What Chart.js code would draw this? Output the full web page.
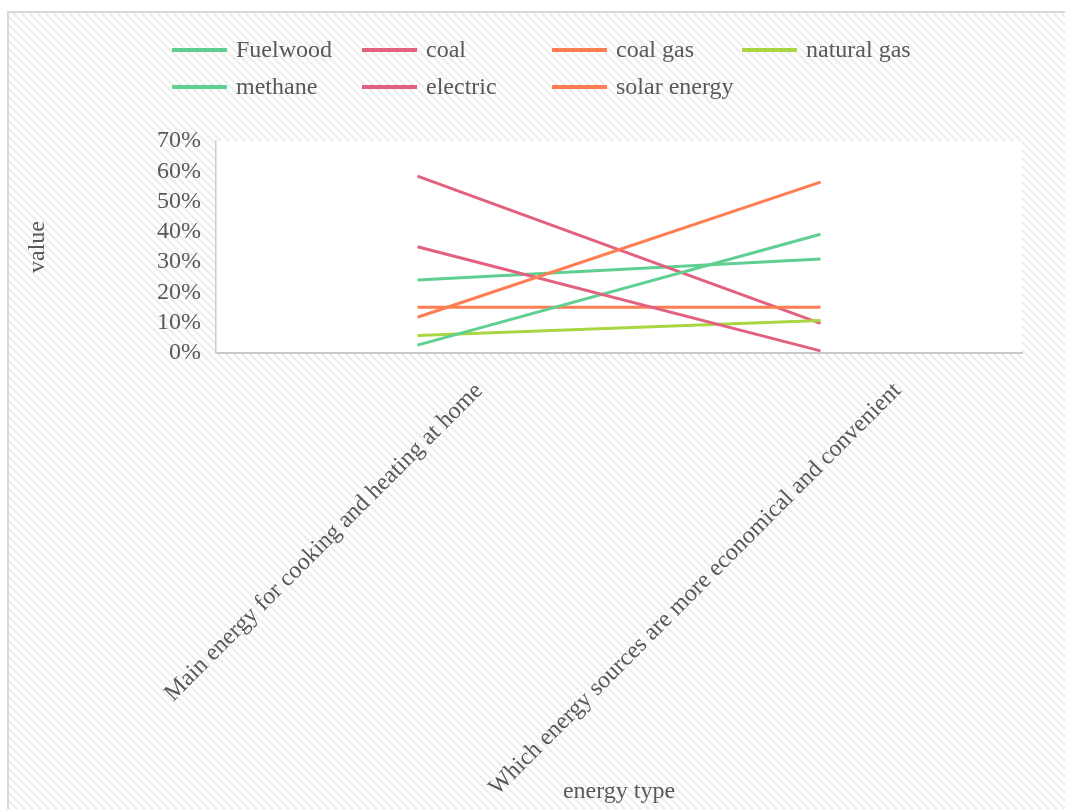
<!DOCTYPE html>
<html>
<head>
<meta charset="utf-8">
<script src="https://cdn.jsdelivr.net/npm/chart.js@4.4.1/dist/chart.umd.min.js"></script>
<style>
  html, body { margin: 0; padding: 0; background: #fff; overflow: hidden; }
  canvas { display: block; }
</style>
</head>
<body>
<canvas id="c" width="1065" height="809"></canvas>
<script>
// ---- data ----
const categories = [
  'Main energy for cooking and heating at home',
  'Which energy sources are more economical and convenient'
];
const seriesNames = ['Fuelwood', 'coal', 'coal gas', 'natural gas', 'methane', 'electric', 'solar energy'];
const fuelwood   = [0.241, 0.310];
const coal       = [0.584, 0.098];
const coalGas    = [0.151, 0.151];
const naturalGas = [0.058, 0.107];
const methane    = [0.026, 0.392];
const electric   = [0.351, 0.007];
const solar      = [0.118, 0.564];
const yTickValues = [0, 0.1, 0.2, 0.3, 0.4, 0.5, 0.6, 0.7];
const xTitle = 'energy type';
const yTitle = 'value';

// ---- styles ----
const seriesColors = ['#5fcf92', '#e2617f', '#ff7d52', '#a9d641', '#5fcf92', '#e2617f', '#ff7d52'];
const FONT = '"Liberation Serif", "Times New Roman", serif';
const TEXT = '#595959';

const seriesValues = [fuelwood, coal, coalGas, naturalGas, methane, electric, solar];

const bgPlugin = {
  id: 'bg',
  beforeDraw(chart) {
    const ctx = chart.ctx, w = chart.width, h = chart.height;
    ctx.save();
    ctx.fillStyle = '#fff';
    ctx.fillRect(0, 0, w, h);
    const p = document.createElement('canvas');
    p.width = 8; p.height = 8;
    const pc = p.getContext('2d');
    pc.fillStyle = '#fff'; pc.fillRect(0, 0, 8, 8);
    pc.strokeStyle = '#ededed'; pc.lineWidth = 2.2;
    pc.beginPath();
    pc.moveTo(-2, -2); pc.lineTo(10, 10);
    pc.moveTo(-2, 6); pc.lineTo(2, 10);
    pc.moveTo(6, -2); pc.lineTo(10, 2);
    pc.stroke();
    ctx.fillStyle = ctx.createPattern(p, 'repeat');
    ctx.fillRect(8, 12, w - 8, h - 12);
    ctx.strokeStyle = '#d9d9d9'; ctx.lineWidth = 2;
    ctx.beginPath();
    ctx.moveTo(8, h); ctx.lineTo(8, 12); ctx.lineTo(w, 12);
    ctx.stroke();
    const a = chart.chartArea;
    ctx.fillStyle = '#fff';
    ctx.fillRect(a.left, a.top, a.right - a.left, a.bottom - a.top);
    ctx.restore();
  }
};

const legendPlugin = {
  id: 'gridLegend',
  afterDraw(chart) {
    const ctx = chart.ctx;
    ctx.save();
    ctx.font = '24px ' + FONT;
    ctx.textBaseline = 'middle';
    ctx.textAlign = 'left';
    chart.data.datasets.forEach((ds, i) => {
      const col = i % 4, row = Math.floor(i / 4);
      const x = 172 + col * 190, y = 50 + row * 37;
      ctx.strokeStyle = ds.borderColor;
      ctx.lineWidth = 4;
      ctx.lineCap = 'butt';
      ctx.beginPath(); ctx.moveTo(x, y); ctx.lineTo(x + 55, y); ctx.stroke();
      ctx.fillStyle = TEXT;
      ctx.fillText(ds.label, x + 64, y + 1);
    });
    ctx.restore();
  }
};

// category labels, rotated 45deg, anchored on the x scale's tick pixels
const xLabelPlugin = {
  id: 'xLabels',
  afterDraw(chart) {
    const ctx = chart.ctx, xs = chart.scales.x;
    ctx.save();
    ctx.font = '24px ' + FONT;
    ctx.fillStyle = TEXT;
    ctx.textAlign = 'right';
    ctx.textBaseline = 'middle';
    chart.data.labels.forEach((lab, i) => {
      const w = ctx.measureText(lab).width;
      const px = xs.getPixelForValue(i) + 0.117 * w;
      const py = xs.top + 24;
      ctx.save();
      ctx.translate(px, py);
      ctx.rotate(-Math.PI / 4);
      ctx.fillText(lab, 0, 14.4);
      ctx.restore();
    });
    ctx.restore();
  }
};

new Chart(document.getElementById('c'), {
  type: 'line',
  data: {
    labels: categories,
    datasets: seriesNames.map((name, i) => ({
      label: name,
      data: seriesValues[i],
      borderColor: seriesColors[i],
      backgroundColor: seriesColors[i],
      borderWidth: 3,
      pointRadius: 0,
      pointHoverRadius: 0,
      fill: false,
      tension: 0,
      order: seriesNames.length - i
    }))
  },
  options: {
    responsive: false,
    animation: false,
    events: [],
    layout: { padding: { top: 141, left: 0, right: 43, bottom: 0 } },
    plugins: { legend: { display: false }, tooltip: { enabled: false }, title: { display: false } },
    scales: {
      x: {
        type: 'category',
        offset: true,
        grid: { display: true, color: 'rgba(0,0,0,0)', drawTicks: false },
        border: { display: true, color: '#c9c9c9', width: 2 },
        ticks: { display: false },
        title: { display: true, text: xTitle, color: TEXT, font: { family: FONT, size: 24 }, padding: { top: 0, bottom: 3 } },
        afterFit(s) { s.height = 809 - 353; }
      },
      y: {
        min: 0, max: 0.7,
        afterBuildTicks(s) { s.ticks = yTickValues.map(v => ({ value: v })); },
        grid: { display: true, color: 'rgba(0,0,0,0)', drawTicks: false },
        border: { display: true, color: '#d0d0d0', width: 1.5 },
        ticks: {
          autoSkip: false,
          padding: 15, color: TEXT, font: { family: FONT, size: 24 },
          callback: v => Math.round(v * 100) + '%'
        },
        title: { display: true, text: yTitle, color: TEXT, font: { family: FONT, size: 24 }, padding: { top: 23, bottom: 0 } },
        afterFit(s) { s.width = 216; }
      }
    }
  },
  plugins: [bgPlugin, legendPlugin, xLabelPlugin]
});
</script>
</body>
</html>
